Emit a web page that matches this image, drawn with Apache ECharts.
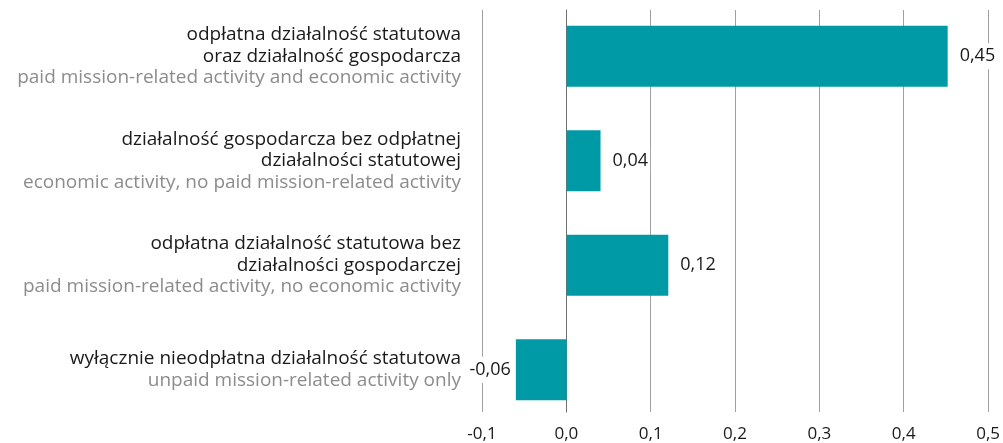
<!DOCTYPE html>
<html><head><meta charset="utf-8">
<script src="https://cdn.jsdelivr.net/npm/echarts@6/dist/echarts.min.js"></script>
<style>html,body{margin:0;padding:0;background:#fff}#c{width:1003px;height:443px}</style>
</head><body><div id="c"></div>
<script>
const categoriesPL = [
  'odpłatna działalność statutowa\noraz działalność gospodarcza',
  'działalność gospodarcza bez odpłatnej\ndziałalności statutowej',
  'odpłatna działalność statutowa bez\ndziałalności gospodarczej',
  'wyłącznie nieodpłatna działalność statutowa'
];
const categoriesEN = [
  'paid mission-related activity and economic activity',
  'economic activity, no paid mission-related activity',
  'paid mission-related activity, no economic activity',
  'unpaid mission-related activity only'
];
const values = [0.45, 0.04, 0.12, -0.06];
const xMin = -0.1, xMax = 0.5, xStep = 0.1;

const FONT = '"Open Sans", sans-serif';
const fmt = v => String(v).replace('.', ',');
const tickFmt = v => v.toFixed(1).replace('.', ',');

const chart = echarts.init(document.getElementById('c'), null, {renderer: 'canvas'});
chart.setOption({
  animation: false,
  grid: [
    {left: 482, right: 13, top: 10, height: 403},
    {left: 482, right: 13, top: 4, height: 418}
  ],
  xAxis: [
    {gridIndex: 0, type: 'value', min: xMin, max: xMax, interval: xStep,
     axisLine: {show: false}, axisTick: {show: false},
     splitLine: {show: true, lineStyle: {color: '#a0a0a0', width: 1}},
     axisLabel: {formatter: tickFmt, color: '#1a1a1a', fontSize: 17, fontFamily: FONT, margin: 14}},
    {gridIndex: 1, type: 'value', min: xMin, max: xMax, interval: xStep, show: false,
     splitLine: {show: false}}
  ],
  yAxis: [
    {gridIndex: 0, type: 'category', data: categoriesPL, inverse: true,
     axisLine: {show: true, onZero: true, lineStyle: {color: '#707070', width: 1}},
     axisTick: {show: false}, axisLabel: {show: false}, splitLine: {show: false}},
    {gridIndex: 1, type: 'category', data: categoriesPL, inverse: true,
     axisLine: {show: false}, axisTick: {show: false}, splitLine: {show: false},
     axisLabel: {
       margin: 21, align: 'right', fontFamily: FONT,
       formatter: (v, i) => {
         const lines = v.split('\n').map(l => '{a|' + l + '}');
         lines.push('{b|' + categoriesEN[i] + '}');
         return lines.join('\n');
       },
       rich: {
         a: {color: '#1a1a1a', fontSize: 19, lineHeight: 21.5, fontFamily: FONT, align: 'right'},
         b: {color: '#8c8c8c', fontSize: 19, lineHeight: 21.5, fontFamily: FONT, align: 'right'}
       }
     }}
  ],
  series: [{
    type: 'bar', xAxisIndex: 1, yAxisIndex: 1, barWidth: 61,
    itemStyle: {color: '#009AA7'},
    data: values.map(v => ({
      value: v,
      label: {show: true, position: v < 0 ? 'left' : 'right', distance: v < 0 ? 3 : 10,
              backgroundColor: '#ffffff', padding: [4, 2],
              formatter: p => fmt(p.value), color: '#1a1a1a', fontSize: 18, fontFamily: FONT}
    }))
  }]
});
</script></body></html>
